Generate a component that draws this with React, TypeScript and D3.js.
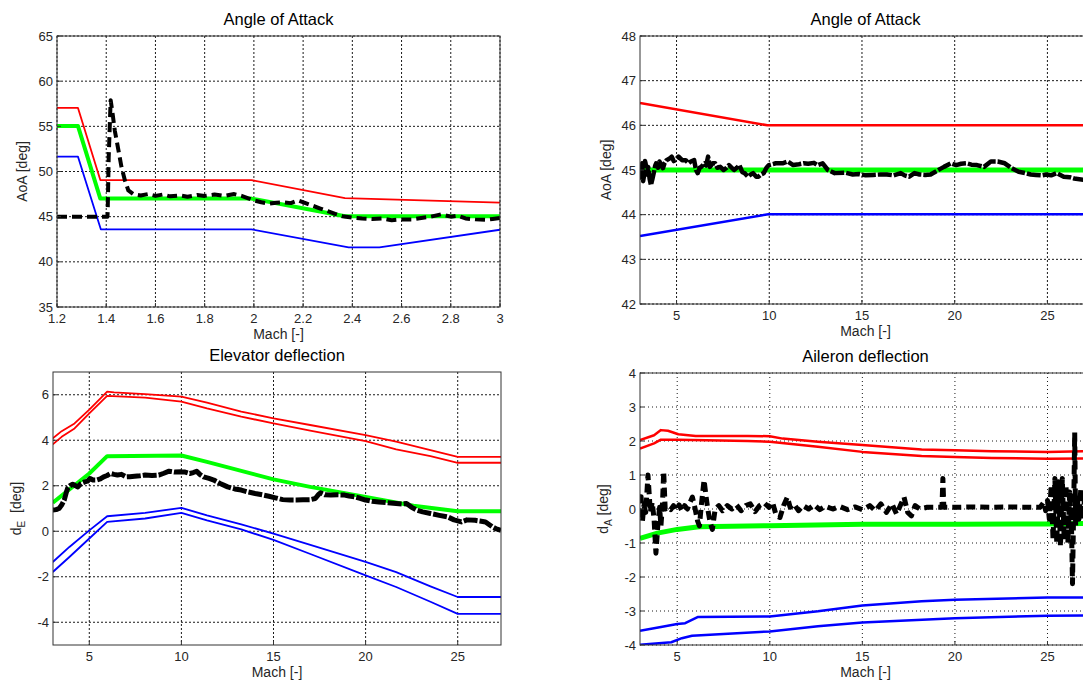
import React from 'react';
import * as d3 from 'd3';

type Pt = [number, number];

// ---------- Panel 1: Angle of Attack (supersonic) ----------
const aoa1XTicks = [1.2, 1.4, 1.6, 1.8, 2.0, 2.2, 2.4, 2.6, 2.8, 3.0];
const aoa1YTicks = [35, 40, 45, 50, 55, 60, 65];
const aoa1Red: Pt[] = [[1.2, 57.05], [1.285, 57.05], [1.376, 49.05], [1.99, 49.05], [2.37, 47.05], [3.0, 46.55]];
const aoa1Green: Pt[] = [[1.2, 55.05], [1.285, 55.05], [1.376, 47.0], [1.99, 47.0], [2.37, 45.05], [3.0, 45.05]];
const aoa1Blue: Pt[] = [[1.2, 51.65], [1.285, 51.65], [1.378, 43.6], [1.99, 43.6], [2.385, 41.6], [2.51, 41.6], [3.0, 43.55]];
const aoa1Sim: Pt[] = [
  [1.2, 45.0], [1.405, 45.0], [1.406, 45.6], [1.41, 51.5], [1.418, 57.9], [1.425, 56.6], [1.435, 54.5], [1.448, 52.6],
  [1.462, 50.5], [1.476, 49.0], [1.49, 47.9], [1.51, 47.5], [1.54, 47.35], [1.57, 47.5], [1.6, 47.3], [1.63, 47.45],
  [1.66, 47.25], [1.7, 47.35], [1.73, 47.2], [1.77, 47.4], [1.8, 47.3], [1.84, 47.45], [1.88, 47.3], [1.92, 47.5],
  [1.95, 47.3], [1.98, 47.0], [2.0, 46.8], [2.03, 46.6], [2.06, 46.45], [2.09, 46.55], [2.12, 46.6], [2.15, 46.5],
  [2.18, 46.8], [2.21, 46.5], [2.24, 46.2], [2.27, 45.9], [2.3, 45.6], [2.33, 45.3], [2.36, 45.05], [2.4, 44.9],
  [2.44, 44.8], [2.48, 44.75], [2.52, 44.8], [2.56, 44.6], [2.6, 44.7], [2.64, 44.7], [2.68, 44.85], [2.72, 45.0],
  [2.76, 45.25], [2.8, 45.0], [2.83, 45.1], [2.86, 44.8], [2.9, 44.7], [2.94, 44.65], [2.97, 44.75], [3.0, 44.85],
];

// ---------- Panel 2: Angle of Attack (hypersonic) ----------
const machTicks = [5, 10, 15, 20, 25];
const aoa2YTicks = [42, 43, 44, 45, 46, 47, 48];
const aoa2Red: Pt[] = [[3.03, 46.5], [9.9, 46.0], [27.35, 46.0]];
const aoa2Green: Pt[] = [[3.03, 45.0], [27.35, 45.0]];
const aoa2Blue: Pt[] = [[3.03, 43.52], [9.95, 44.01], [27.35, 44.01]];
const aoa2Sim: Pt[] = [
  [3.05, 44.78], [3.1, 45.1], [3.15, 45.15], [3.2, 44.75], [3.24, 44.85], [3.3, 45.2], [3.33, 45.15], [3.4, 44.9],
  [3.47, 45.07], [3.55, 44.8], [3.62, 44.66], [3.7, 44.8], [3.77, 44.93], [3.85, 45.1], [3.9, 45.15], [4.0, 45.05],
  [4.08, 45.19], [4.18, 45.1], [4.27, 45.04], [4.35, 45.15], [4.46, 45.22], [4.6, 45.25], [4.74, 45.3], [4.85, 45.2],
  [4.93, 45.22], [5.11, 45.3], [5.3, 45.22], [5.49, 45.22], [5.65, 45.15], [5.77, 45.19], [5.95, 45.22], [6.05, 45.0],
  [6.14, 44.93], [6.25, 45.05], [6.33, 45.07], [6.52, 45.15], [6.6, 45.1], [6.7, 45.3], [6.8, 45.07], [6.95, 45.15],
  [7.08, 45.15], [7.2, 45.05], [7.36, 45.07], [7.54, 45.0], [7.7, 45.05], [7.83, 45.11], [8.1, 45.0], [8.25, 45.05],
  [8.39, 45.11], [8.55, 44.95], [8.67, 44.93], [8.85, 44.85], [9.0, 44.9], [9.13, 44.93], [9.3, 44.85], [9.42, 44.85],
  [9.55, 44.9], [9.7, 44.93], [9.85, 45.05], [9.98, 45.11], [10.35, 45.15], [10.72, 45.15], [11.0, 45.19], [11.29, 45.11],
  [11.6, 45.13], [11.85, 45.15], [12.1, 45.14], [12.41, 45.16], [12.6, 45.11], [12.88, 45.15], [13.16, 45.0], [13.53, 44.93],
  [14.09, 44.94], [14.5, 44.9], [14.84, 44.91], [15.2, 44.88], [15.59, 44.89], [16.0, 44.9], [16.34, 44.9], [16.7, 44.88],
  [17.09, 44.93], [17.3, 44.88], [17.55, 44.85], [17.83, 44.93], [18.1, 44.9], [18.4, 44.89], [18.7, 44.9], [18.96, 44.96],
  [19.2, 45.02], [19.42, 45.07], [19.8, 45.15], [20.08, 45.11], [20.35, 45.14], [20.64, 45.15], [20.9, 45.12], [21.2, 45.11],
  [21.58, 45.07], [21.95, 45.19], [22.32, 45.19], [22.7, 45.15], [23.07, 45.04], [23.45, 44.96], [23.82, 44.93], [24.1, 44.9],
  [24.38, 44.89], [24.7, 44.88], [24.94, 44.9], [25.2, 44.88], [25.5, 44.93], [25.88, 44.85], [26.2, 44.84], [26.44, 44.81],
  [26.96, 44.78], [27.35, 44.8],
];

// ---------- Panel 3: Elevator deflection ----------
const elevYTicks = [-4, -2, 0, 2, 4, 6];
const elevRedHi: Pt[] = [[3.02, 4.08], [3.5, 4.4], [4.2, 4.74], [5.0, 5.35], [5.97, 6.14], [6.34, 6.1], [8.03, 6.03], [10.0, 5.92], [11.39, 5.65], [13.25, 5.26], [15.0, 4.96], [16.99, 4.67], [20.0, 4.23], [21.66, 3.94], [23.52, 3.57], [25.0, 3.27], [27.35, 3.27]];
const elevRedLo: Pt[] = [[3.02, 3.82], [3.5, 4.15], [4.2, 4.52], [5.0, 5.18], [5.97, 5.95], [8.03, 5.87], [10.0, 5.7], [11.39, 5.4], [13.25, 5.04], [15.0, 4.74], [16.99, 4.42], [20.0, 3.96], [21.66, 3.6], [23.52, 3.3], [25.0, 3.01], [27.35, 3.01]];
const elevGreen: Pt[] = [[3.02, 1.25], [5.0, 2.54], [5.97, 3.3], [10.0, 3.33], [11.39, 3.05], [15.0, 2.28], [16.99, 1.95], [20.0, 1.51], [22.6, 1.12], [25.0, 0.88], [27.35, 0.88]];
const elevBlueHi: Pt[] = [[3.02, -1.35], [3.92, -0.69], [5.0, 0.04], [5.97, 0.66], [8.03, 0.81], [10.0, 1.03], [11.39, 0.7], [13.25, 0.3], [15.0, -0.1], [17.0, -0.6], [20.0, -1.35], [21.66, -1.8], [23.52, -2.42], [25.0, -2.89], [27.35, -2.89]];
const elevBlueLo: Pt[] = [[3.02, -1.79], [3.92, -1.13], [5.0, -0.32], [5.97, 0.41], [8.03, 0.56], [10.0, 0.81], [11.39, 0.48], [13.25, 0.08], [15.0, -0.38], [17.0, -1.0], [20.0, -1.94], [21.66, -2.45], [23.52, -3.1], [25.0, -3.63], [27.35, -3.63]];
const elevSim: Pt[] = [
  [3.02, 0.93], [3.2, 0.95], [3.36, 1.0], [3.5, 1.15], [3.64, 1.37], [3.75, 1.7], [3.82, 1.88], [3.95, 2.0], [4.1, 2.07],
  [4.25, 2.0], [4.38, 1.95], [4.55, 2.1], [4.76, 2.17], [4.9, 2.2], [5.04, 2.32], [5.2, 2.25], [5.41, 2.25], [5.6, 2.3],
  [5.78, 2.39], [5.97, 2.45], [6.16, 2.54], [6.34, 2.5], [6.53, 2.47], [6.75, 2.5], [7.0, 2.39], [7.2, 2.4], [7.46, 2.42],
  [7.75, 2.44], [8.03, 2.47], [8.4, 2.45], [8.77, 2.47], [9.05, 2.55], [9.33, 2.64], [9.65, 2.6], [10.0, 2.61], [10.2, 2.6],
  [10.45, 2.54], [10.65, 2.58], [10.83, 2.64], [11.0, 2.5], [11.2, 2.39], [11.5, 2.32], [11.76, 2.25], [12.1, 2.1],
  [12.51, 1.95], [12.9, 1.86], [13.25, 1.81], [13.6, 1.73], [14.0, 1.66], [14.4, 1.6], [14.75, 1.54], [15.1, 1.47],
  [15.5, 1.39], [15.9, 1.37], [16.24, 1.37], [16.6, 1.38], [16.99, 1.39], [17.27, 1.44], [17.45, 1.62], [17.55, 1.69],
  [17.8, 1.6], [18.11, 1.59], [18.5, 1.6], [18.86, 1.59], [19.1, 1.55], [19.42, 1.51], [19.7, 1.45], [20.0, 1.37],
  [20.35, 1.32], [20.72, 1.29], [21.2, 1.25], [21.66, 1.22], [22.0, 1.2], [22.22, 1.22], [22.5, 1.05], [22.78, 0.93],
  [23.1, 0.85], [23.52, 0.78], [24.0, 0.7], [24.46, 0.63], [24.8, 0.5], [25.2, 0.41], [25.5, 0.5], [25.95, 0.48],
  [26.2, 0.45], [26.51, 0.41], [26.7, 0.3], [26.89, 0.19], [27.1, 0.1], [27.35, 0.04],
];

// ---------- Panel 4: Aileron deflection ----------
const ailYTicks = [-4, -3, -2, -1, 0, 1, 2, 3, 4];
const ailRedHi: Pt[] = [[2.99, 2.03], [3.75, 2.17], [4.12, 2.32], [4.5, 2.3], [5.06, 2.2], [6.0, 2.15], [8.8, 2.15], [10.0, 2.14], [10.7, 2.07], [12.6, 1.98], [15.0, 1.88], [18.2, 1.75], [20.0, 1.73], [22.0, 1.7], [25.0, 1.68], [27.35, 1.7]];
const ailRedLo: Pt[] = [[2.99, 1.78], [3.75, 1.93], [4.12, 2.04], [5.06, 2.04], [8.8, 2.0], [10.0, 1.98], [12.6, 1.83], [15.0, 1.68], [18.2, 1.56], [20.0, 1.53], [22.0, 1.5], [25.0, 1.48], [27.35, 1.49]];
const ailGreen: Pt[] = [[2.99, -0.86], [3.93, -0.71], [5.0, -0.6], [6.18, -0.52], [10.0, -0.49], [15.0, -0.45], [20.0, -0.45], [25.0, -0.44], [27.35, -0.42]];
const ailBlueHi: Pt[] = [[2.99, -3.58], [4.12, -3.47], [5.0, -3.38], [5.43, -3.36], [6.1, -3.18], [10.0, -3.16], [12.6, -3.01], [15.0, -2.84], [18.2, -2.71], [20.0, -2.67], [25.0, -2.6], [27.35, -2.6]];
const ailBlueLo: Pt[] = [[2.99, -3.99], [4.68, -3.92], [5.25, -3.8], [5.8, -3.73], [10.0, -3.6], [12.6, -3.45], [15.0, -3.34], [20.0, -3.21], [25.0, -3.14], [27.35, -3.13]];
const ailSim: Pt[] = [
  [2.99, 0.3], [3.05, 0.36], [3.12, -0.37], [3.2, 0.1], [3.3, -0.1], [3.42, 1.0], [3.55, -0.1], [3.65, 0.2], [3.75, -0.3],
  [3.85, -1.3], [3.95, -0.5], [4.05, 0.05], [4.12, -0.5], [4.2, 0.1], [4.27, 1.1], [4.35, 0.0], [4.5, 0.05], [4.65, -0.02],
  [4.8, 0.1], [4.95, -0.05], [5.1, 0.12], [5.25, -0.05], [5.4, 0.1], [5.55, 0.0], [5.7, 0.2], [5.82, 0.35], [5.95, 0.05],
  [6.1, -0.35], [6.2, -0.5], [6.3, 0.1], [6.45, 0.85], [6.55, 0.4], [6.65, 0.0], [6.78, -0.4], [6.9, -0.6], [7.05, 0.0],
  [7.25, 0.1], [7.45, -0.05], [7.7, 0.1], [7.95, 0.0], [8.2, 0.12], [8.45, -0.05], [8.7, 0.1], [8.95, 0.15], [9.2, -0.08],
  [9.45, 0.1], [9.7, 0.18], [9.95, 0.05], [10.15, 0.2], [10.35, -0.2], [10.55, -0.25], [10.75, 0.1], [10.95, 0.35],
  [11.1, 0.05], [11.3, 0.15], [11.55, -0.05], [11.8, 0.1], [12.1, 0.0], [12.4, 0.12], [12.7, -0.02], [13.0, 0.08],
  [13.4, 0.0], [13.8, 0.07], [14.2, -0.02], [14.6, 0.06], [15.0, -0.02], [15.4, 0.1], [15.7, -0.05], [16.0, 0.15],
  [16.3, -0.1], [16.6, 0.15], [16.85, -0.15], [17.05, 0.1], [17.25, 0.35], [17.45, -0.1], [17.65, -0.2], [17.85, 0.1],
  [18.1, 0.0], [18.5, 0.05], [18.9, 0.05], [19.3, 0.05], [19.35, 0.9], [19.4, 0.05], [20, 0.05], [21, 0.06], [22, 0.05],
  [23, 0.06], [24, 0.05], [24.6, 0.05], [24.8, 0.2], [24.9, -0.05], [25.0, 0.25], [25.1, -0.3], [25.2, 0.7], [25.3, -0.9],
  [25.4, 0.9], [25.5, -1.0], [25.6, 0.8], [25.7, -1.1], [25.8, 0.9], [25.9, -0.9], [26.0, 0.7], [26.1, -1.0], [26.2, 0.5],
  [26.3, -0.6], [26.35, -2.2], [26.42, 0.2], [26.47, 2.25], [26.52, -0.5], [26.6, 0.4], [26.7, -0.3], [26.8, 0.6],
  [26.9, -0.3], [27.0, 0.3], [27.1, -0.2], [27.35, 0.1],
];

const FONT = "Arial, 'Liberation Sans', Helvetica, sans-serif";
const RED = '#ff0000';
const GREEN = '#00ff00';
const BLUE = '#0000ff';
const BLACK = '#000000';

type Series = { data: Pt[]; color: string; width: number; dash?: string };

type PanelProps = {
  id: string;
  left: number; top: number; width: number; height: number;
  xDomain: [number, number]; yDomain: [number, number];
  xTicks: number[]; yTicks: number[];
  title: string;
  yLabel: React.ReactNode;
  yLabelX: number;
  series: Series[];
  gridDash: string;
};

function fmt(v: number) {
  return String(+v.toFixed(2));
}

function Panel(p: PanelProps) {
  const x = d3.scaleLinear().domain(p.xDomain).range([p.left, p.left + p.width]);
  const y = d3.scaleLinear().domain(p.yDomain).range([p.top + p.height, p.top]);
  const line = d3.line<Pt>().x((d) => x(d[0])).y((d) => y(d[1]));
  const bottom = p.top + p.height;
  const right = p.left + p.width;
  const cx = p.left + p.width / 2;
  const cy = p.top + p.height / 2;
  return (
    <g>
      <defs>
        <clipPath id={p.id}>
          <rect x={p.left} y={p.top} width={p.width} height={p.height} />
        </clipPath>
      </defs>
      <rect x={p.left} y={p.top} width={p.width} height={p.height} fill="#fff" />
      <g stroke="#1a1a1a" strokeWidth={1} strokeDasharray={p.gridDash}>
        {p.xTicks.map((t) => (
          <line key={'gx' + t} x1={x(t)} x2={x(t)} y1={p.top} y2={bottom} />
        ))}
        {p.yTicks.map((t) => (
          <line key={'gy' + t} x1={p.left} x2={right} y1={y(t)} y2={y(t)} />
        ))}
      </g>
      <g clipPath={`url(#${p.id})`} fill="none" strokeLinejoin="round">
        {p.series.map((s, i) => (
          <path key={i} d={line(s.data) || ''} stroke={s.color} strokeWidth={s.width} strokeDasharray={s.dash} />
        ))}
      </g>
      <rect x={p.left} y={p.top} width={p.width} height={p.height} fill="none" stroke="#333" strokeWidth={1} />
      <g stroke="#333" strokeWidth={1}>
        {p.xTicks.map((t) => (
          <line key={'tx' + t} x1={x(t)} x2={x(t)} y1={bottom} y2={bottom - 4} />
        ))}
        {p.yTicks.map((t) => (
          <line key={'ty' + t} x1={p.left} x2={p.left + 4} y1={y(t)} y2={y(t)} />
        ))}
      </g>
      <g fontFamily={FONT} fontSize={13} fill="#262626">
        {p.xTicks.map((t) => (
          <text key={'lx' + t} x={x(t)} y={bottom + 16} textAnchor="middle">{fmt(t)}</text>
        ))}
        {p.yTicks.map((t) => (
          <text key={'ly' + t} x={p.left - 4} y={y(t) + 4.5} textAnchor="end">{fmt(t)}</text>
        ))}
      </g>
      <text x={cx} y={p.top - 11} textAnchor="middle" fontFamily={FONT} fontSize={16.5} fill="#000">{p.title}</text>
      <text x={cx} y={bottom + 32} textAnchor="middle" fontFamily={FONT} fontSize={14} fill="#262626">Mach [-]</text>
      <text transform={`translate(${p.yLabelX},${cy}) rotate(-90)`} textAnchor="middle" fontFamily={FONT} fontSize={14} fill="#262626">
        {p.yLabel}
      </text>
    </g>
  );
}

export default function App() {
  return (
    <svg
      width={1083}
      height={681}
      style={{ position: 'absolute', left: 0, top: 0, background: '#fff' }}
      xmlns="http://www.w3.org/2000/svg"
    >
      <rect x={0} y={0} width={1083} height={681} fill="#fff" />
      <Panel
        id="c1" left={57} top={36} width={443} height={271}
        xDomain={[1.2, 3.0]} yDomain={[35, 65]} xTicks={aoa1XTicks} yTicks={aoa1YTicks}
        title="Angle of Attack" yLabel="AoA [deg]" yLabelX={27} gridDash="2,2"
        series={[
          { data: aoa1Red, color: RED, width: 1.8 },
          { data: aoa1Green, color: GREEN, width: 4 },
          { data: aoa1Blue, color: BLUE, width: 1.8 },
          { data: aoa1Sim, color: BLACK, width: 4, dash: '10,5' },
        ]}
      />
      <Panel
        id="c2" left={640} top={36} width={451} height={268}
        xDomain={[3.03, 27.35]} yDomain={[42, 48]} xTicks={machTicks} yTicks={aoa2YTicks}
        title="Angle of Attack" yLabel="AoA [deg]" yLabelX={611} gridDash="2,2"
        series={[
          { data: aoa2Red, color: RED, width: 2.5 },
          { data: aoa2Green, color: GREEN, width: 5 },
          { data: aoa2Blue, color: BLUE, width: 2.5 },
          { data: aoa2Sim, color: BLACK, width: 4.5, dash: '14,2' },
        ]}
      />
      <Panel
        id="c3" left={53} top={372} width={448} height={273}
        xDomain={[3.03, 27.35]} yDomain={[-5, 7]} xTicks={machTicks} yTicks={elevYTicks}
        title="Elevator deflection"
        yLabel={<>d<tspan dy={4} fontSize={10}>E</tspan><tspan dy={-4}>{'\u00a0\u00a0[deg]'}</tspan></>}
        yLabelX={21} gridDash="2,2"
        series={[
          { data: elevRedHi, color: RED, width: 1.8 },
          { data: elevRedLo, color: RED, width: 1.8 },
          { data: elevGreen, color: GREEN, width: 4 },
          { data: elevBlueHi, color: BLUE, width: 1.8 },
          { data: elevBlueLo, color: BLUE, width: 1.8 },
          { data: elevSim, color: BLACK, width: 5, dash: '14,2' },
        ]}
      />
      <Panel
        id="c4" left={640} top={373} width={451} height={272}
        xDomain={[2.99, 27.35]} yDomain={[-4, 4]} xTicks={machTicks} yTicks={ailYTicks}
        title="Aileron deflection"
        yLabel={<>d<tspan dy={4} fontSize={10}>A</tspan><tspan dy={-4}>{'\u00a0[deg]'}</tspan></>}
        yLabelX={608} gridDash="1,3"
        series={[
          { data: ailRedHi, color: RED, width: 2.5 },
          { data: ailRedLo, color: RED, width: 2.5 },
          { data: ailGreen, color: GREEN, width: 5 },
          { data: ailBlueHi, color: BLUE, width: 2.5 },
          { data: ailBlueLo, color: BLUE, width: 2.5 },
          { data: ailSim, color: BLACK, width: 5, dash: '9,5' },
        ]}
      />
    </svg>
  );
}
